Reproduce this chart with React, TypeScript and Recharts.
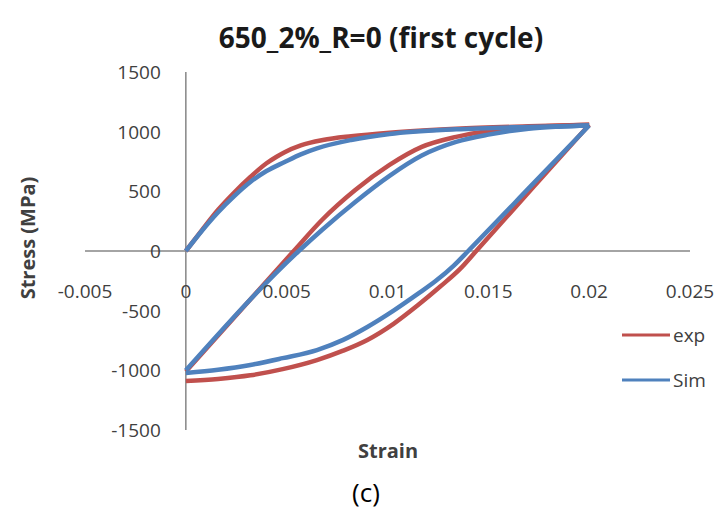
import { LineChart, Line, XAxis, YAxis, ReferenceLine } from 'recharts';

// [strain, stress MPa]; unloading branches listed in increasing strain
const expLoading = [
  [0, 0], [0.0008, 175], [0.0016, 345], [0.0024, 490], [0.0032, 620], [0.004, 735],
  [0.0045, 790], [0.0049, 828], [0.0057, 885], [0.0068, 930], [0.0082, 962], [0.0101, 992],
  [0.0134, 1025], [0.017, 1045], [0.02, 1058],
];
const expUnloading = [
  [0, -1090], [0.0016, -1072], [0.0032, -1042], [0.0048, -990], [0.0065, -914], [0.0078, -835],
  [0.009, -745], [0.0103, -610], [0.0115, -455], [0.0126, -300], [0.0136, -150], [0.0144, 0],
  [0.0172, 530], [0.02, 1058],
];
const expReloading = [
  [0, -1010], [0.00535, 0], [0.00675, 260], [0.0084, 511], [0.0101, 721], [0.0117, 872],
  [0.0134, 956], [0.015, 1006], [0.017, 1039], [0.0185, 1050], [0.02, 1058],
];
const simLoading = [
  [0, 0], [0.0008, 170], [0.0016, 325], [0.0024, 460], [0.0032, 578], [0.004, 670],
  [0.0049, 746], [0.0057, 810], [0.0065, 860], [0.0082, 930], [0.0101, 980], [0.0134, 1020],
  [0.017, 1040], [0.02, 1052],
];
const simUnloading = [
  [0, -1022], [0.0016, -995], [0.0032, -955], [0.0048, -898], [0.0065, -830], [0.0078, -745],
  [0.009, -637], [0.0103, -500], [0.0115, -360], [0.0124, -250], [0.0133, -120], [0.014, 0],
  [0.0172, 560], [0.02, 1052],
];
const simReloading = [
  [0, -1000], [0.0056, 0], [0.00675, 176], [0.0084, 411], [0.0101, 630], [0.0117, 800],
  [0.0134, 914], [0.015, 975], [0.017, 1025], [0.0185, 1042], [0.02, 1052],
];

const xTicks = [-0.005, 0, 0.005, 0.01, 0.015, 0.02, 0.025];
const yTicks = [-1500, -1000, -500, 0, 500, 1000, 1500];
const legendItems = [
  { name: 'exp', color: '#C0504D' },
  { name: 'Sim', color: '#4F81BD' },
];

const RED = '#C0504D';
const BLUE = '#4F81BD';

const W = 720;
const H = 515;
const Y_AXIS_W = 60;
const X_AXIS_H = 30;
const M = { top: 72, right: 30, bottom: 85 - X_AXIS_H, left: 85 - Y_AXIS_W };
const plotLeft = M.left + Y_AXIS_W;
const plotW = W - plotLeft - M.right;
const plotH = H - M.top - M.bottom - X_AXIS_H;
const xMin = -0.005, xMax = 0.025, yMin = -1500, yMax = 1500;
const zeroX = plotLeft + (plotW * (0 - xMin)) / (xMax - xMin);
const zeroY = M.top + (plotH * (yMax - 0)) / (yMax - yMin);

const FONT = '"Open Sans", sans-serif';

const toRows = (pts: number[][]) => pts.map(([x, y]) => ({ x, y }));

const XTick = (props: any) => {
  const { x, payload } = props;
  return (
    <text x={x} y={zeroY + 40} textAnchor="middle" dominantBaseline="central"
      fontFamily={FONT} fontSize={19} fill="#404040">
      {String(payload.value)}
    </text>
  );
};

const YTick = (props: any) => {
  const { y, payload } = props;
  return (
    <text x={zeroX - 25} y={y} textAnchor="end" dominantBaseline="central"
      fontFamily={FONT} fontSize={19} fill="#404040">
      {String(payload.value)}
    </text>
  );
};

const series = [
  { key: 'expL', data: expLoading, color: RED },
  { key: 'expU', data: expUnloading, color: RED },
  { key: 'expR', data: expReloading, color: RED },
  { key: 'simL', data: simLoading, color: BLUE },
  { key: 'simU', data: simUnloading, color: BLUE },
  { key: 'simR', data: simReloading, color: BLUE },
];

export default function App() {
  return (
    <div style={{ position: 'absolute', left: 0, top: 0, width: W, height: H, background: '#fff' }}>
      <LineChart width={W} height={H} margin={M}>
        <XAxis type="number" dataKey="x" domain={[xMin, xMax]} ticks={xTicks}
          allowDataOverflow axisLine={false} tickLine={false} tick={XTick} height={X_AXIS_H} />
        <YAxis type="number" dataKey="y" domain={[yMin, yMax]} ticks={yTicks}
          allowDataOverflow axisLine={false} tickLine={false} tick={YTick} width={Y_AXIS_W} />
        <ReferenceLine y={0} stroke="#868686" strokeWidth={1.5} />
        <ReferenceLine x={0} stroke="#868686" strokeWidth={1.5} />
        {series.map((s) => (
          <Line key={s.key} data={toRows(s.data)} dataKey="y" type="monotone"
            stroke={s.color} strokeWidth={4.5} dot={false} isAnimationActive={false}
            legendType="none" />
        ))}
        {legendItems.map((it, i) => (
          <g key={it.name}>
            <line x1={622} x2={670} y1={335 + i * 45} y2={335 + i * 45} stroke={it.color} strokeWidth={3} />
            <text x={673} y={335 + i * 45} dominantBaseline="central"
              fontFamily={FONT} fontSize={19} fill="#404040">{it.name}</text>
          </g>
        ))}
        <text x={381} y={37} textAnchor="middle" dominantBaseline="central"
          fontFamily={FONT} fontWeight="bold" fontSize={28} fill="#1a1a1a">
          650_2%_R=0 (first cycle)
        </text>
        <text x={388} y={450} textAnchor="middle" dominantBaseline="central"
          fontFamily={FONT} fontWeight="bold" fontSize={20} fill="#404040">
          Strain
        </text>
        <text x={27} y={238} textAnchor="middle" dominantBaseline="central"
          fontFamily={FONT} fontWeight="bold" fontSize={20} fill="#404040"
          transform="rotate(-90 27 238)">
          Stress (MPa)
        </text>
        <text x={366} y={492} textAnchor="middle" dominantBaseline="central"
          fontFamily={FONT} fontSize={26} fill="#000">
          (c)
        </text>
      </LineChart>
    </div>
  );
}
